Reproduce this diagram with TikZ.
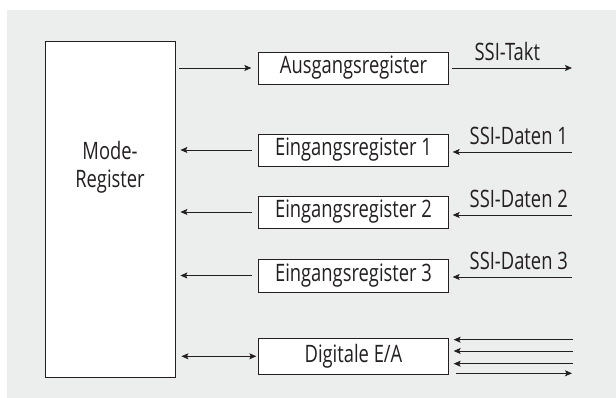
\documentclass[tikz,border=0pt]{standalone}
\usepackage{fontspec}
\setmainfont[FakeStretch=0.765]{Open Sans}
\usetikzlibrary{arrows.meta}
\definecolor{bggray}{RGB}{236,237,237}
\definecolor{ink}{RGB}{35,31,32}

\begin{document}
\begin{tikzpicture}[x=1pt,y=1pt,
		font=\fontsize{24}{27.7}\selectfont,text=ink,
		>={Stealth[length=7pt,width=6pt,inset=1.5pt]},
		reg/.style={draw=ink,fill=white,line width=0.8pt,minimum width=189.5pt,minimum height=32pt,inner sep=0pt},
		conn/.style={draw=ink,line width=0.8pt},
		ssi/.style={inner sep=0pt,anchor=south east,xshift=-4pt,yshift=7pt}]
		\useasboundingbox (0,0) rectangle (616,398);
		\fill [bggray] (7,0) rectangle (616,388);
		%mode register and the registers
		\node [draw=ink,fill=white,line width=0.8pt,minimum width=130pt,minimum height=336pt,inner sep=0pt] (mode) at (110,189) {};
		\node [align=center] (modetext) at (110,231) {Mode-\\Register};
		\node [reg] (aus) at (353.5,330) {Ausgangsregister};
		\node [reg] (ein1) at (353.5,248) {Eingangsregister 1};
		\node [reg] (ein2) at (353.5,186) {Eingangsregister 2};
		\node [reg,minimum height=33pt] (ein3) at (353.5,122.5) {Eingangsregister 3};
		\node [reg,minimum height=36pt] (dig) at (353.5,41.7) {Digitale E/A};
		%connections to the mode register
		\draw [conn,->,shorten <=4pt,shorten >=7pt] (mode.east |- aus) -- (aus.west);
		\foreach \r in {ein1,ein2,ein3}
			\draw [conn,->,shorten <=6pt,shorten >=5pt] (\r.west) -- (mode.east |- \r);
		\draw [conn,<->,shorten <=6pt,shorten >=2pt] (mode.east |- dig) -- (dig.west);
		%SSI lines
		\coordinate (takt) at (572,330);
		\draw [conn,->,shorten <=3pt] (aus.east) -- (takt) node[midway,inner sep=0pt,anchor=south,xshift=-3pt,yshift=7pt] (takttext) {SSI-Takt};
		\coordinate (daten1) at (572,246);
		\coordinate (daten2) at (572,183);
		\coordinate (daten3) at (572,121);
		\foreach \d/\r in {1/ein1,2/ein2,3/ein3}{
			\draw [conn,->,shorten >=4pt] (daten\d) -- (\r.east |- daten\d);
			\node [ssi] (datentext\d) at (daten\d) {SSI-Daten \d};
		}
		%digital lines
		\foreach \y [count=\i] in {58.3,47,34.3}{
			\coordinate (io\i) at (573,\y);
			\draw [conn,->,shorten >=5pt] (io\i) -- (dig.east |- io\i);
		}
		\coordinate (io4) at (572,24.7);
		\draw [conn,->,shorten <=7pt] (dig.east |- io4) -- (io4);
\end{tikzpicture}
\end{document}
